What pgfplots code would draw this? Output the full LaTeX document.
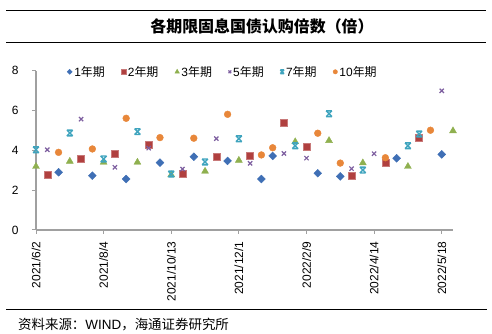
\documentclass[border=0pt]{standalone}
\usepackage{pgfplots}
\pgfplotsset{compat=1.18}
\usepackage{fontspec}
\setmainfont{Liberation Sans}
\newfontfamily\cjk{Noto Sans CJK SC}
\definecolor{c1}{HTML}{3F6FB5}
\definecolor{c2}{HTML}{B0403F}
\definecolor{c3}{HTML}{8FB04F}
\definecolor{c5}{HTML}{7E5FA0}
\definecolor{c7}{HTML}{3FA4BE}
\definecolor{c10}{HTML}{E8873A}
\definecolor{axgray}{HTML}{A0A0A0}
\pgfdeclareplotmark{hourglass}{%
  \pgfpathmoveto{\pgfqpoint{-\pgfplotmarksize}{\pgfplotmarksize}}%
  \pgfpathlineto{\pgfqpoint{\pgfplotmarksize}{-\pgfplotmarksize}}%
  \pgfpathmoveto{\pgfqpoint{\pgfplotmarksize}{\pgfplotmarksize}}%
  \pgfpathlineto{\pgfqpoint{-\pgfplotmarksize}{-\pgfplotmarksize}}%
  \pgfpathmoveto{\pgfqpoint{-\pgfplotmarksize}{\pgfplotmarksize}}%
  \pgfpathlineto{\pgfqpoint{\pgfplotmarksize}{\pgfplotmarksize}}%
  \pgfpathmoveto{\pgfqpoint{-\pgfplotmarksize}{-\pgfplotmarksize}}%
  \pgfpathlineto{\pgfqpoint{\pgfplotmarksize}{-\pgfplotmarksize}}%
  \pgfusepathqstroke}
\begin{document}
\begin{tikzpicture}
\useasboundingbox (0bp,0bp) rectangle (492bp,334bp);
\draw[line width=0.8bp] (6bp,323.3bp) -- (486bp,323.3bp);
\draw[line width=0.8bp] (6bp,291.7bp) -- (486bp,291.7bp);
\node[font=\cjk\bfseries\fontsize{16}{18}\selectfont, inner sep=0pt] at (262bp,308bp) {各期限固息国债认购倍数（倍）};
\draw[line width=0.8bp] (6bp,24.7bp) -- (487bp,24.7bp);
\node[anchor=west, font=\fontsize{13.5}{15}\selectfont, inner sep=0pt] at (18bp,9bp) {{\cjk 资料来源：}WIND{\cjk ，海通证券研究所}};
\begin{axis}[
  at={(36bp,104bp)}, anchor=south west,
  scale only axis, width=417bp, height=159.3bp,
  xmin=0, xmax=37, ymin=0, ymax=8,
  axis x line*=bottom, axis y line*=left,
  axis line style={axgray, line width=1.4bp},
  tick style={axgray, line width=1bp},
  tick align=outside, major tick length=4bp,
  xtick={0,6,12,18,24,30,36},
  xticklabels={2021/6/2,2021/8/4,2021/10/13,2021/12/1,2022/2/9,2022/4/14,2022/5/18},
  ytick={0,2,4,6,8},
  /pgf/number format/assume math mode=true,
  ticklabel style={font=\fontsize{12}{14}\selectfont},
  xticklabel style={rotate=90, anchor=east},
  xticklabel shift=4bp,
  yticklabel shift=10bp,
  clip=false,
  only marks,
  legend columns=-1,
  legend style={at={(0.067,0.993)}, anchor=west, draw=none, fill=none,
    font=\fontsize{12}{14}\selectfont,
    /tikz/every even column/.append style={column sep=14.5bp}},
  legend image code/.code={\draw[mark repeat=1,#1,/tikz/every mark/.append style={scale=0.65}] plot coordinates {(0bp,0bp)};},
]
\addplot[mark=square*, mark size=2.8bp, mark options={rotate=45, fill=c1, draw=c1}] coordinates {
(2,2.90)(5,2.73)(8,2.56)(11,3.38)(14,3.68)(17,3.47)(20,2.56)(21,3.72)(25,2.85)(27,2.69)(32,3.60)(36,3.80)};
\addlegendentry{1{\cjk 年期}}
\addplot[mark=square*, mark size=3.5bp, mark options={fill=c2, draw=c2!70!white}] coordinates {
(1,2.80)(4,3.57)(7,3.82)(10,4.27)(13,2.84)(16,3.68)(19,3.73)(22,5.39)(24,4.18)(28,2.71)(31,3.39)(34,4.66)};
\addlegendentry{2{\cjk 年期}}
\addplot[mark=triangle*, mark size=4bp, mark options={fill=c3, draw=c3}] coordinates {
(0,3.19)(3,3.45)(6,3.40)(9,3.40)(12,2.77)(15,2.95)(18,3.50)(23,4.43)(26,4.49)(29,3.37)(33,3.19)(37,4.98)};
\addlegendentry{3{\cjk 年期}}
\addplot[mark=x, mark size=3bp, mark options={draw=c5, line width=1.2bp}] coordinates {
(1,4.03)(4,5.57)(7,3.15)(10,4.11)(13,3.06)(16,4.59)(19,3.35)(22,3.84)(24,3.61)(28,3.08)(30,3.83)(36,6.99)};
\addlegendentry{5{\cjk 年期}}
\addplot[mark=hourglass, mark size=2.9bp, mark options={draw=c7, line width=1.4bp}] coordinates {
(0,4.03)(3,4.87)(6,3.57)(9,4.94)(12,2.81)(15,3.42)(18,4.58)(23,4.23)(26,5.84)(29,3.01)(33,4.23)(34,4.82)};
\addlegendentry{7{\cjk 年期}}
\addplot[mark=*, mark size=3.4bp, mark options={fill=c10, draw=c10}] coordinates {
(2,3.90)(5,4.07)(8,5.61)(11,4.64)(14,4.61)(17,5.81)(20,3.77)(21,4.13)(25,4.86)(27,3.36)(31,3.63)(35,5.01)};
\addlegendentry{10{\cjk 年期}}
\end{axis}
\end{tikzpicture}
\end{document}
